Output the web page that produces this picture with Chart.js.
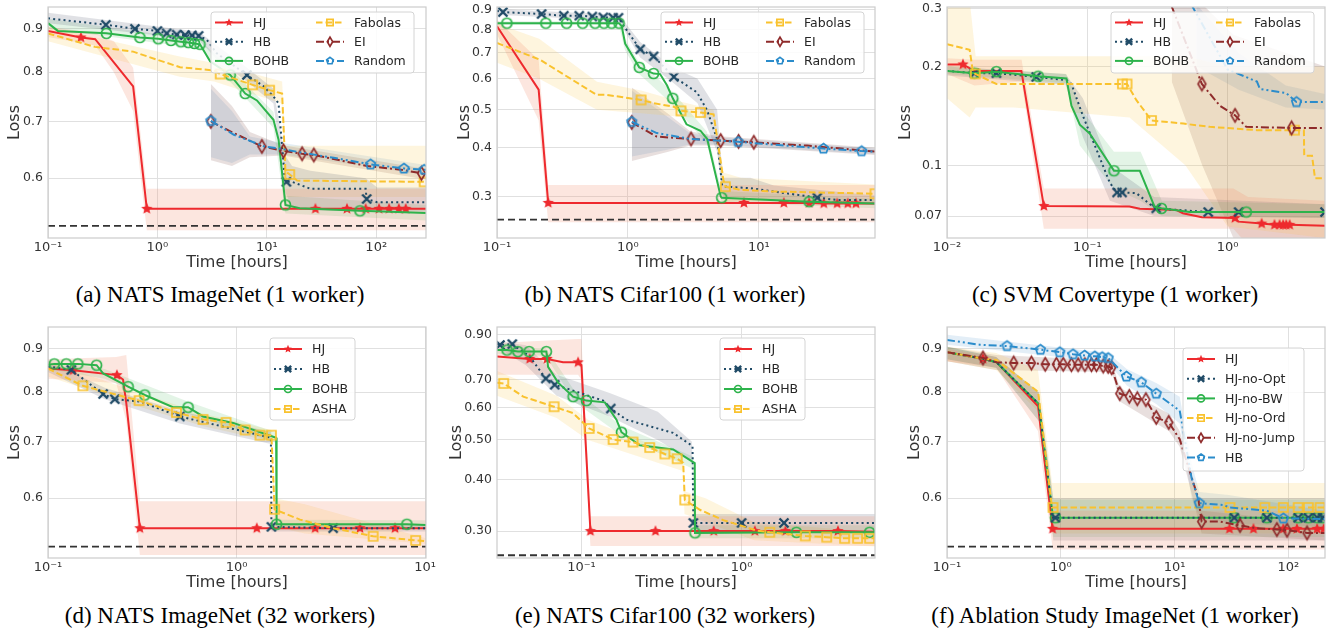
<!DOCTYPE html>
<html>
<head>
<meta charset="utf-8">
<script src="https://cdn.jsdelivr.net/npm/chart.js@4.4.1/dist/chart.umd.min.js"></script>
<style>
body { margin: 0; background: #fff; }
#fig { position: relative; width: 1340px; height: 633px; overflow: hidden; }
canvas { position: absolute; }
.cap { position: absolute; text-align: center; font-family: 'Liberation Serif', serif; font-size: 23px; line-height: 26px; color: #000; white-space: nowrap; }
</style>
</head>
<body>
<div id="fig">
  <canvas id="ca" width="440" height="280" style="left:0;top:0"></canvas>
  <canvas id="cb" width="450" height="280" style="left:440px;top:0"></canvas>
  <canvas id="cc" width="450" height="280" style="left:890px;top:0"></canvas>
  <canvas id="cd" width="440" height="280" style="left:0;top:320px"></canvas>
  <canvas id="ce" width="450" height="280" style="left:440px;top:320px"></canvas>
  <canvas id="cf" width="450" height="280" style="left:890px;top:320px"></canvas>
  <div class="cap" style="left:0;top:282px;width:440px">(a) NATS ImageNet (1 worker)</div>
  <div class="cap" style="left:440px;top:282px;width:450px">(b) NATS Cifar100 (1 worker)</div>
  <div class="cap" style="left:890px;top:282px;width:450px">(c) SVM Covertype (1 worker)</div>
  <div class="cap" style="left:0;top:603px;width:440px">(d) NATS ImageNet (32 workers)</div>
  <div class="cap" style="left:440px;top:603px;width:450px">(e) NATS Cifar100 (32 workers)</div>
  <div class="cap" style="left:890px;top:603px;width:450px">(f) Ablation Study ImageNet (1 worker)</div>
</div>
<script>
// ---- (a) NATS ImageNet, 1 worker ----
var aXlim = [0.1, 285], aYlim = [0.51, 0.955];
var aXt = [0.1, 1, 10, 100], aYt = [0.6, 0.7, 0.8, 0.9];
var aHjT = [0.1, 0.2, 0.27, 0.6, 0.8, 27.8, 54, 80, 106, 131, 161, 186, 285];
var aHjY = [0.895, 0.879, 0.875, 0.77, 0.552, 0.552, 0.552, 0.552, 0.552, 0.552, 0.552, 0.552, 0.552];
var aHjM = [1, 4, 5, 6, 7, 8, 9, 10, 11];
var aHjBT = [0.1, 0.27, 0.4, 0.6, 0.8, 285];
var aHjLo = [0.88, 0.86, 0.8, 0.72, 0.521, 0.521];
var aHjHi = [0.905, 0.89, 0.87, 0.81, 0.583, 0.583];
var aHbT = [0.1, 0.338, 0.623, 1.0, 1.215, 1.5, 1.79, 2.07, 2.38, 2.82, 3.49, 6.58, 9.35, 11.5, 12.8, 14.5, 15.1, 17, 25, 80, 81.7, 102, 285];
var aHbY = [0.926, 0.91, 0.9, 0.895, 0.889, 0.886, 0.885, 0.884, 0.883, 0.874, 0.842, 0.794, 0.77, 0.749, 0.735, 0.605, 0.594, 0.594, 0.583, 0.583, 0.567, 0.562, 0.562];
var aHbM = [1, 2, 3, 4, 5, 6, 7, 8, 11, 16, 20];
var aHbBT = [0.1, 2.4, 3.5, 6.6, 11.5, 14.5, 17, 25, 80, 102, 285];
var aHbLo = [0.914, 0.873, 0.828, 0.78, 0.735, 0.58, 0.555, 0.55, 0.548, 0.548, 0.548];
var aHbHi = [0.94, 0.893, 0.86, 0.81, 0.765, 0.64, 0.62, 0.612, 0.6, 0.585, 0.585];
var aBoT = [0.1, 0.123, 0.342, 0.692, 1.019, 1.33, 1.64, 1.92, 2.18, 2.45, 3.03, 4.63, 6.35, 8.12, 11.5, 12.8, 14.8, 20, 71, 285];
var aBoY = [0.914, 0.895, 0.889, 0.879, 0.876, 0.872, 0.869, 0.867, 0.865, 0.863, 0.824, 0.794, 0.755, 0.741, 0.703, 0.666, 0.558, 0.553, 0.549, 0.546];
var aBoM = [2, 3, 4, 5, 6, 7, 8, 9, 11, 12, 16, 18];
var aBoBT = [0.1, 2.45, 4.6, 11.5, 14.8, 285];
var aBoLo = [0.9, 0.853, 0.78, 0.688, 0.545, 0.535];
var aBoHi = [0.925, 0.873, 0.808, 0.718, 0.572, 0.558];
var aFaT = [0.1, 0.268, 0.6, 0.984, 1.61, 3.25, 3.75, 7.41, 10.6, 13.8, 14.8, 16.2, 18.9, 274, 285];
var aFaY = [0.889, 0.857, 0.846, 0.828, 0.811, 0.804, 0.796, 0.773, 0.762, 0.755, 0.611, 0.606, 0.596, 0.594, 0.594];
var aFaM = [6, 7, 8, 11, 13];
var aFaBT = [0.1, 1.6, 3.3, 13.8, 14.8, 285];
var aFaLo = [0.87, 0.79, 0.78, 0.735, 0.57, 0.57];
var aFaHi = [0.905, 0.835, 0.82, 0.78, 0.655, 0.655];
var aEiT = [3.08, 5.0, 9.02, 14.2, 21, 26.9, 40.9, 82.8, 167, 259, 285];
var aEiY = [0.7, 0.678, 0.654, 0.646, 0.641, 0.639, 0.632, 0.62, 0.614, 0.608, 0.605];
var aEiM = [0, 2, 3, 4, 5, 9];
var aEiBT = [3.08, 4.8, 7, 14, 285];
var aEiLo = [0.63, 0.62, 0.635, 0.638, 0.598];
var aEiHi = [0.775, 0.73, 0.68, 0.656, 0.615];
var aRaT = [3.08, 5.0, 9.5, 14.2, 21, 40.9, 88.7, 179, 274, 285];
var aRaY = [0.701, 0.675, 0.654, 0.649, 0.643, 0.634, 0.623, 0.616, 0.614, 0.614];
var aRaM = [0, 6, 7, 8];
var aRaBT = [3.08, 4.8, 7, 14, 285];
var aRaLo = [0.635, 0.625, 0.64, 0.64, 0.605];
var aRaHi = [0.765, 0.72, 0.672, 0.66, 0.622];
var aBest = 0.527;

// ---- (b) NATS Cifar100, 1 worker ----
var bXlim = [0.1, 77], bYlim = [0.235, 0.916];
var bXt = [0.1, 1, 10], bYt = [0.3, 0.4, 0.5, 0.6, 0.7, 0.8, 0.9];
var bHjT = [0.1, 0.208, 0.246, 7.68, 15.5, 24.2, 31.3, 39.6, 47.7, 55.1, 77];
var bHjY = [0.818, 0.563, 0.289, 0.289, 0.289, 0.289, 0.288, 0.288, 0.288, 0.288, 0.288];
var bHjM = [2, 3, 4, 5, 6, 7, 8, 9];
var bHjBT = [0.1, 0.208, 0.246, 77];
var bHjLo = [0.78, 0.47, 0.258, 0.258];
var bHjHi = [0.85, 0.67, 0.321, 0.321];
var bHbT = [0.1, 0.111, 0.219, 0.324, 0.425, 0.534, 0.649, 0.771, 0.846, 0.897, 1.24, 1.57, 2.24, 3.37, 4.03, 4.79, 5.24, 5.55, 8.63, 13, 27.9, 39.6, 77];
var bHbY = [0.895, 0.889, 0.879, 0.87, 0.87, 0.866, 0.862, 0.86, 0.86, 0.833, 0.714, 0.685, 0.607, 0.554, 0.498, 0.421, 0.32, 0.318, 0.315, 0.309, 0.298, 0.294, 0.294];
var bHbM = [1, 2, 3, 4, 5, 6, 7, 8, 10, 11, 12, 20];
var bHbBT = [0.1, 0.85, 1.24, 2.24, 3.4, 4.8, 5.3, 8.6, 13, 77];
var bHbLo = [0.875, 0.845, 0.68, 0.585, 0.52, 0.39, 0.3, 0.298, 0.294, 0.285];
var bHbHi = [0.905, 0.875, 0.745, 0.64, 0.6, 0.5, 0.335, 0.335, 0.32, 0.302];
var bBoT = [0.1, 0.119, 0.236, 0.34, 0.451, 0.561, 0.656, 0.751, 0.855, 0.897, 0.952, 1.22, 1.57, 1.76, 1.99, 2.2, 2.8, 3.58, 4.03, 5.11, 5.2, 24.2, 77];
var bBoY = [0.833, 0.833, 0.833, 0.833, 0.833, 0.833, 0.833, 0.833, 0.833, 0.818, 0.738, 0.642, 0.619, 0.617, 0.577, 0.535, 0.459, 0.442, 0.421, 0.3, 0.298, 0.291, 0.288];
var bBoM = [1, 2, 3, 4, 5, 6, 7, 8, 11, 12, 15, 20, 21];
var bBoBT = [0.1, 0.85, 0.95, 1.2, 2.2, 4.0, 5.2, 77];
var bBoLo = [0.825, 0.825, 0.71, 0.62, 0.515, 0.41, 0.29, 0.28];
var bBoHi = [0.842, 0.842, 0.76, 0.665, 0.555, 0.44, 0.31, 0.296];
var bFaT = [0.1, 0.212, 0.576, 0.688, 1.26, 1.57, 2.24, 2.54, 3.58, 4.51, 5.36, 5.55, 7.25, 13, 77];
var bFaY = [0.741, 0.672, 0.546, 0.546, 0.53, 0.52, 0.509, 0.497, 0.492, 0.487, 0.33, 0.318, 0.312, 0.309, 0.305];
var bFaM = [4, 7, 8, 11, 14];
var bFaBT = [0.1, 0.21, 0.58, 1.26, 2.5, 4.5, 5.4, 7.3, 77];
var bFaLo = [0.66, 0.6, 0.5, 0.49, 0.48, 0.475, 0.29, 0.292, 0.29];
var bFaHi = [0.83, 0.76, 0.59, 0.56, 0.525, 0.5, 0.345, 0.335, 0.322];
var bEiT = [1.07, 1.66, 3.03, 5.11, 7.0, 9.15, 23.3, 77];
var bEiY = [0.464, 0.427, 0.421, 0.417, 0.415, 0.413, 0.405, 0.391];
var bEiM = [0, 2, 3, 4, 5];
var bEiBT = [1.07, 2, 3, 5, 77];
var bEiLo = [0.37, 0.39, 0.405, 0.405, 0.383];
var bEiHi = [0.57, 0.49, 0.44, 0.428, 0.4];
var bRaT = [1.07, 1.66, 3.0, 6.94, 31.1, 60.8, 77];
var bRaY = [0.466, 0.436, 0.421, 0.414, 0.398, 0.392, 0.391];
var bRaM = [0, 3, 4, 5];
var bRaBT = [1.07, 2, 3, 5, 77];
var bRaLo = [0.38, 0.395, 0.408, 0.407, 0.385];
var bRaHi = [0.56, 0.48, 0.435, 0.425, 0.398];
var bBest = 0.262;

// ---- (c) SVM Covertype, 1 worker ----
var cXlim = [0.01, 4.95], cYlim = [0.060, 0.304];
var cXt = [0.01, 0.1, 1], cYt = [0.07, 0.1, 0.2, 0.3];
var cHjT = [0.01, 0.013, 0.0157, 0.0339, 0.049, 0.2, 0.237, 0.433, 0.48, 0.656, 1.128, 1.2, 1.75, 2.16, 2.35, 2.49, 2.62, 2.77, 4.95];
var cHjY = [0.203, 0.203, 0.194, 0.194, 0.0751, 0.0748, 0.0737, 0.073, 0.0714, 0.0694, 0.069, 0.0673, 0.0664, 0.0658, 0.0658, 0.0658, 0.0658, 0.0658, 0.0654];
var cHjM = [1, 4, 10, 12, 13, 14, 15, 16, 17];
var cHjBT = [0.01, 0.0157, 0.034, 0.049, 1.1, 1.4, 4.95];
var cHjLo = [0.19, 0.175, 0.18, 0.064, 0.064, 0.057, 0.057];
var cHjHi = [0.212, 0.21, 0.21, 0.085, 0.085, 0.08, 0.078];
var cHbT = [0.01, 0.0157, 0.0225, 0.0433, 0.071, 0.0771, 0.0934, 0.116, 0.145, 0.163, 0.177, 0.224, 0.294, 0.31, 0.728, 1.2, 4.95];
var cHbY = [0.194, 0.191, 0.191, 0.186, 0.182, 0.177, 0.141, 0.112, 0.0883, 0.0826, 0.0826, 0.0822, 0.0748, 0.0739, 0.072, 0.072, 0.072];
var cHbM = [1, 2, 3, 9, 10, 13, 14, 15, 16];
var cHbBT = [0.01, 0.07, 0.093, 0.145, 0.3, 4.95];
var cHbLo = [0.188, 0.176, 0.122, 0.078, 0.07, 0.069];
var cHbHi = [0.2, 0.19, 0.16, 0.1, 0.08, 0.076];
var cBoT = [0.01, 0.0157, 0.0225, 0.0447, 0.071, 0.0771, 0.0885, 0.104, 0.155, 0.237, 0.302, 0.338, 0.536, 1.36, 4.95];
var cBoY = [0.194, 0.191, 0.193, 0.187, 0.184, 0.152, 0.133, 0.125, 0.0962, 0.0962, 0.0746, 0.0739, 0.072, 0.072, 0.072];
var cBoM = [1, 2, 3, 8, 11, 13];
var cBoBT = [0.01, 0.071, 0.0885, 0.155, 0.24, 0.34, 4.95];
var cBoLo = [0.19, 0.178, 0.115, 0.085, 0.078, 0.07, 0.069];
var cBoHi = [0.2, 0.19, 0.15, 0.11, 0.11, 0.078, 0.076];
var cFaT = [0.01, 0.0145, 0.0153, 0.0159, 0.0225, 0.178, 0.192, 0.224, 0.287, 0.484, 0.749, 1.62, 3.0, 3.5, 3.52, 4.0, 4.2, 4.95];
var cFaY = [0.234, 0.225, 0.193, 0.19, 0.177, 0.177, 0.177, 0.158, 0.137, 0.134, 0.131, 0.128, 0.128, 0.128, 0.107, 0.107, 0.0913, 0.0913];
var cFaM = [3, 5, 6, 8, 12];
var cFaBT = [0.01, 0.0145, 0.016, 0.03, 0.2, 0.5, 1.0, 4.95];
var cFaLo = [0.16, 0.14, 0.15, 0.15, 0.14, 0.1, 0.065, 0.06];
var cFaHi = [0.32, 0.32, 0.215, 0.215, 0.215, 0.215, 0.2, 0.2];
var cEiT = [0.4, 0.656, 0.88, 1.13, 1.36, 2.86, 4.95];
var cEiY = [0.305, 0.177, 0.152, 0.142, 0.131, 0.13, 0.13];
var cEiM = [1, 3, 5];
var cEiBT = [0.4, 0.66, 1.1, 4.95];
var cEiLo = [0.18, 0.1, 0.06, 0.06];
var cEiHi = [0.31, 0.31, 0.25, 0.2];
var cRaT = [0.55, 1.0, 1.16, 1.62, 1.7, 2.62, 3.1, 4.95];
var cRaY = [0.31, 0.196, 0.191, 0.18, 0.171, 0.166, 0.156, 0.156];
var cRaM = [6];
var cRaBT = [0.6, 1.2, 2.6, 4.95];
var cRaLo = [0.2, 0.17, 0.15, 0.148];
var cRaHi = [0.31, 0.22, 0.175, 0.165];

// ---- (d) NATS ImageNet, 32 workers ----
var dXlim = [0.1, 10.1], dYlim = [0.51, 0.955];
var dXt = [0.1, 1, 10], dYt = [0.6, 0.7, 0.8, 0.9];
var dHjT = [0.1, 0.136, 0.232, 0.25, 0.26, 0.307, 1.28, 2.61, 4.51, 6.92, 10.1];
var dHjY = [0.853, 0.849, 0.838, 0.828, 0.777, 0.553, 0.553, 0.553, 0.553, 0.553, 0.553];
var dHjM = [1, 2, 5, 6, 7, 8, 9];
var dHjBT = [0.1, 0.23, 0.26, 0.307, 10.1];
var dHjLo = [0.83, 0.82, 0.74, 0.514, 0.514];
var dHjHi = [0.875, 0.88, 0.885, 0.595, 0.595];
var dHbT = [0.1, 0.133, 0.196, 0.226, 0.307, 0.5, 0.96, 1.52, 1.53, 3.25, 10.1];
var dHbY = [0.858, 0.85, 0.796, 0.785, 0.78, 0.749, 0.724, 0.707, 0.555, 0.553, 0.553];
var dHbM = [1, 2, 3, 5, 8, 9];
var dHbBT = [0.1, 0.2, 0.5, 1.52, 1.53, 10.1];
var dHbLo = [0.845, 0.785, 0.735, 0.695, 0.548, 0.548];
var dHbHi = [0.87, 0.81, 0.76, 0.718, 0.56, 0.558];
var dBoT = [0.1, 0.108, 0.125, 0.144, 0.181, 0.196, 0.266, 0.326, 0.46, 0.553, 0.664, 0.96, 1.62, 1.63, 8.0, 10.1];
var dBoY = [0.862, 0.864, 0.864, 0.864, 0.861, 0.842, 0.812, 0.794, 0.768, 0.768, 0.749, 0.736, 0.707, 0.559, 0.559, 0.558];
var dBoM = [1, 2, 3, 4, 6, 7, 9, 13, 14];
var dBoBT = [0.1, 0.2, 0.55, 1.62, 1.63, 10.1];
var dBoLo = [0.852, 0.83, 0.755, 0.697, 0.552, 0.552];
var dBoHi = [0.872, 0.852, 0.78, 0.717, 0.566, 0.565];
var dAsT = [0.1, 0.153, 0.304, 0.48, 0.664, 0.879, 1.11, 1.33, 1.53, 1.59, 2.17, 3.25, 5.3, 8.9, 10.1];
var dAsY = [0.853, 0.814, 0.782, 0.757, 0.743, 0.737, 0.722, 0.712, 0.712, 0.582, 0.566, 0.553, 0.541, 0.535, 0.534];
var dAsM = [1, 2, 3, 4, 5, 6, 7, 8, 9, 12, 13];
var dAsBT = [0.1, 0.3, 0.66, 1.53, 1.59, 2.3, 10.1];
var dAsLo = [0.835, 0.77, 0.73, 0.7, 0.555, 0.545, 0.53];
var dAsHi = [0.87, 0.8, 0.755, 0.722, 0.6, 0.59, 0.538];
var dBest = 0.526;

// ---- (e) NATS Cifar100, 32 workers ----
var eXlim = [0.0297, 6.81], eYlim = [0.258, 0.941];
var eXt = [0.1, 1], eYt = [0.3, 0.4, 0.5, 0.6, 0.7, 0.9];
var eHjT = [0.0297, 0.0475, 0.061, 0.0768, 0.0953, 0.1, 0.1138, 0.29, 0.67, 1.21, 1.88, 4.0, 6.81];
var eHjY = [0.798, 0.787, 0.787, 0.772, 0.772, 0.761, 0.3, 0.3, 0.3, 0.3, 0.3, 0.3, 0.299];
var eHjM = [1, 2, 4, 6, 7, 8, 9, 10, 11];
var eHjBT = [0.0297, 0.0953, 0.1, 0.1138, 6.81];
var eHjLo = [0.72, 0.72, 0.7, 0.276, 0.276];
var eHjHi = [0.86, 0.88, 0.88, 0.326, 0.326];
var eHbT = [0.0297, 0.031, 0.037, 0.0475, 0.0599, 0.0681, 0.0887, 0.1366, 0.1525, 0.191, 0.374, 0.494, 0.5, 1.0, 1.84, 6.81];
var eHbY = [0.855, 0.851, 0.855, 0.798, 0.705, 0.681, 0.659, 0.623, 0.596, 0.56, 0.52, 0.483, 0.314, 0.314, 0.314, 0.314];
var eHbM = [1, 2, 4, 5, 8, 12, 13, 14];
var eHbBT = [0.0297, 0.045, 0.07, 0.15, 0.3, 0.49, 0.5, 6.81];
var eHbLo = [0.84, 0.76, 0.64, 0.57, 0.5, 0.445, 0.298, 0.298];
var eHbHi = [0.87, 0.85, 0.72, 0.65, 0.585, 0.495, 0.33, 0.33];
var eBoT = [0.0297, 0.0343, 0.0401, 0.0471, 0.0604, 0.0619, 0.0715, 0.0887, 0.1075, 0.14, 0.1655, 0.1778, 0.2316, 0.374, 0.51, 0.512, 2.2, 6.3, 6.81];
var eBoY = [0.827, 0.827, 0.82, 0.82, 0.82, 0.753, 0.689, 0.637, 0.623, 0.617, 0.56, 0.522, 0.485, 0.474, 0.439, 0.297, 0.298, 0.298, 0.298];
var eBoM = [1, 2, 3, 4, 7, 8, 11, 15, 16, 17];
var eBoBT = [0.0297, 0.06, 0.09, 0.18, 0.5, 0.51, 6.81];
var eBoLo = [0.81, 0.8, 0.62, 0.51, 0.425, 0.288, 0.288];
var eBoHi = [0.84, 0.835, 0.66, 0.54, 0.455, 0.31, 0.31];
var eAsT = [0.0297, 0.0327, 0.0433, 0.0675, 0.0887, 0.1117, 0.1577, 0.21, 0.267, 0.332, 0.396, 0.432, 0.442, 0.549, 0.768, 1.24, 1.5, 2.5, 3.4, 4.4, 5.3, 6.3, 6.81];
var eAsY = [0.689, 0.686, 0.637, 0.602, 0.581, 0.533, 0.501, 0.494, 0.479, 0.462, 0.45, 0.44, 0.357, 0.338, 0.319, 0.301, 0.298, 0.292, 0.29, 0.288, 0.288, 0.288, 0.288];
var eAsM = [1, 3, 5, 6, 7, 8, 9, 10, 12, 16, 17, 18, 19, 20, 21];
var eAsBT = [0.0297, 0.07, 0.11, 0.43, 0.44, 0.6, 1.2, 6.81];
var eAsLo = [0.64, 0.565, 0.5, 0.42, 0.33, 0.315, 0.285, 0.275];
var eAsHi = [0.735, 0.64, 0.56, 0.455, 0.375, 0.36, 0.315, 0.298];
var eBest = 0.262;

// ---- (f) Ablation study ImageNet, 1 worker ----
var fXlim = [0.1, 210], fYlim = [0.51, 0.955];
var fXt = [0.1, 1, 10, 100], fYt = [0.6, 0.7, 0.8, 0.9];
var fHjT = [0.1, 0.207, 0.272, 0.632, 0.846, 30.4, 49.4, 90.3, 119, 179, 205, 210];
var fHjY = [0.892, 0.876, 0.868, 0.77, 0.552, 0.552, 0.552, 0.552, 0.552, 0.552, 0.552, 0.552];
var fHjM = [1, 4, 5, 6, 7, 8, 9, 10];
var fHjBT = [0.1, 0.27, 0.63, 0.85, 210];
var fHjLo = [0.87, 0.855, 0.72, 0.522, 0.522];
var fHjHi = [0.9, 0.88, 0.8, 0.58, 0.58];
var fOpT = [0.1, 0.207, 0.272, 0.64, 0.855, 0.897, 33.5, 64.7, 122, 150, 180, 200, 210];
var fOpY = [0.892, 0.876, 0.868, 0.775, 0.569, 0.569, 0.569, 0.569, 0.569, 0.569, 0.569, 0.569, 0.569];
var fOpM = [5, 6, 7, 8, 9, 10, 11];
var fOpBT = [0.1, 0.27, 0.64, 0.86, 210];
var fOpLo = [0.875, 0.855, 0.74, 0.535, 0.535];
var fOpHi = [0.905, 0.88, 0.8, 0.6, 0.6];
var fBwT = [0.1, 0.207, 0.272, 0.64, 0.855, 0.897, 33.5, 64.7, 122, 150, 180, 200, 210];
var fBwY = [0.892, 0.876, 0.868, 0.775, 0.569, 0.569, 0.569, 0.569, 0.569, 0.569, 0.569, 0.569, 0.569];
var fBwM = [5, 6, 7, 8, 9, 10, 11];
var fBwBT = [0.1, 0.27, 0.64, 0.86, 210];
var fBwLo = [0.875, 0.855, 0.74, 0.54, 0.54];
var fBwHi = [0.905, 0.88, 0.8, 0.598, 0.598];
var fOrT = [0.1, 0.207, 0.272, 0.632, 0.837, 0.855, 30.7, 62.1, 90.3, 122, 150, 190, 210];
var fOrY = [0.892, 0.876, 0.873, 0.801, 0.585, 0.585, 0.585, 0.585, 0.585, 0.585, 0.585, 0.585, 0.585];
var fOrM = [5, 6, 7, 8, 9, 10, 11];
var fOrBT = [0.1, 0.27, 0.63, 0.84, 210];
var fOrLo = [0.87, 0.85, 0.76, 0.545, 0.545];
var fOrHi = [0.905, 0.89, 0.85, 0.625, 0.625];
var fJuT = [0.1, 0.207, 0.272, 0.386, 0.552, 0.73, 0.915, 1.05, 1.24, 1.42, 1.63, 1.86, 2.06, 2.36, 2.61, 2.8, 3.3, 4.0, 4.7, 5.6, 6.9, 8.9, 11.1, 16.2, 17.3, 25.1, 37.6, 52.8, 79.3, 97.4, 146, 210];
var fJuY = [0.892, 0.878, 0.868, 0.866, 0.866, 0.863, 0.863, 0.863, 0.862, 0.862, 0.862, 0.862, 0.862, 0.859, 0.858, 0.855, 0.797, 0.791, 0.786, 0.784, 0.747, 0.737, 0.704, 0.599, 0.563, 0.563, 0.557, 0.553, 0.551, 0.55, 0.546, 0.546];
var fJuM = [1, 3, 4, 5, 6, 7, 8, 9, 10, 11, 12, 13, 14, 15, 16, 17, 18, 19, 20, 21, 24, 26, 28, 29, 30];
var fJuBT = [0.1, 0.27, 2.8, 3.3, 8.9, 11.1, 17.3, 210];
var fJuLo = [0.87, 0.85, 0.845, 0.78, 0.72, 0.69, 0.545, 0.535];
var fJuHi = [0.905, 0.885, 0.872, 0.81, 0.755, 0.72, 0.58, 0.56];
var fHbT = [0.1, 0.194, 0.337, 0.662, 0.98, 1.28, 1.62, 1.99, 2.31, 2.61, 3.78, 5.1, 6.9, 11.1, 14.1, 16.5, 26.5, 30.7, 64.7, 90.3, 210];
var fHbY = [0.922, 0.91, 0.907, 0.898, 0.892, 0.887, 0.884, 0.882, 0.88, 0.878, 0.835, 0.822, 0.797, 0.761, 0.634, 0.592, 0.589, 0.585, 0.58, 0.568, 0.567];
var fHbM = [2, 3, 4, 5, 6, 7, 8, 9, 10, 11, 12, 15, 19];
var fHbBT = [0.1, 2.6, 3.8, 6.9, 11.1, 14.1, 16.5, 30, 210];
var fHbLo = [0.91, 0.868, 0.815, 0.775, 0.735, 0.6, 0.572, 0.56, 0.555];
var fHbHi = [0.935, 0.89, 0.852, 0.82, 0.79, 0.66, 0.61, 0.605, 0.58];
var fBest = 0.526;

// ---- styles ----
Chart.defaults.font.family = "'DejaVu Sans', sans-serif";
Chart.defaults.color = '#333';

function drawMk(ctx, type, color, x, y, r) {
  ctx.save();
  ctx.strokeStyle = color; ctx.fillStyle = color;
  ctx.lineWidth = 1.7; ctx.setLineDash([]);
  ctx.beginPath();
  if (type == 'star') {
    for (var i = 0; i < 10; i++) {
      var a = -Math.PI / 2 + i * Math.PI / 5, rr = i % 2 ? r * 0.45 : r;
      ctx.lineTo(x + rr * Math.cos(a), y + rr * Math.sin(a));
    }
    ctx.closePath(); ctx.fill();
  } else if (type == 'x') {
    ctx.lineWidth = 2.4;
    ctx.moveTo(x - r, y - r); ctx.lineTo(x + r, y + r);
    ctx.moveTo(x + r, y - r); ctx.lineTo(x - r, y + r);
    ctx.stroke();
  } else if (type == 'circle') {
    ctx.arc(x, y, r, 0, Math.PI * 2); ctx.stroke();
  } else if (type == 'square') {
    ctx.rect(x - r * 0.9, y - r * 0.9, r * 1.8, r * 1.8); ctx.stroke();
  } else if (type == 'diamond') {
    ctx.moveTo(x, y - r * 1.2); ctx.lineTo(x + r * 0.7, y); ctx.lineTo(x, y + r * 1.2); ctx.lineTo(x - r * 0.7, y);
    ctx.closePath(); ctx.stroke();
  } else if (type == 'pent') {
    for (var j = 0; j < 5; j++) {
      var b = -Math.PI / 2 + j * 2 * Math.PI / 5;
      ctx.lineTo(x + r * Math.cos(b), y + r * Math.sin(b));
    }
    ctx.closePath(); ctx.stroke();
  }
  ctx.restore();
}

function mkImg(type, color, r) {
  var c = document.createElement('canvas');
  var s = Math.ceil(r * 2.6 + 4);
  c.width = s; c.height = s;
  drawMk(c.getContext('2d'), type, color, s / 2, s / 2, r);
  return c;
}

function style(c, dash, mk, r, band) {
  return { c: c, dash: dash, mk: mk, r: r, band: band, img: mkImg(mk, c, r) };
}

var sHJ = style('#ee2a2e', [], 'star', 6, 'rgba(242,140,110,0.22)');
var sHB = style('#1f4a66', [2, 3.2], 'x', 4.5, 'rgba(70,75,100,0.17)');
var sBO = style('#2db34b', [], 'circle', 5, 'rgba(60,180,80,0.14)');
var sFA = style('#f9c22e', [6.5, 3], 'square', 5, 'rgba(250,205,90,0.2)');
var sEI = style('#8f2b2b', [8, 3, 2, 3], 'diamond', 5.5, 'rgba(130,80,70,0.18)');
var sRA = style('#2b8ccb', [8, 3, 2, 3, 2, 3], 'pent', 5, 'rgba(70,140,200,0.15)');

function pts(t, y) {
  return t.map(function (x, i) { return { x: x, y: y[i] }; });
}

function ln(t, y, m, s, ord) {
  return {
    data: pts(t, y), borderColor: s.c, borderWidth: 2, borderDash: s.dash,
    pointStyle: s.img, pointRadius: function (c) { return m.indexOf(c.dataIndex) >= 0 ? 4 : 0; },
    pointHoverRadius: 0, fill: false, tension: 0, order: ord
  };
}

function bd(t, lo, hi, col) {
  return [
    { data: pts(t, lo), borderColor: 'rgba(0,0,0,0)', borderWidth: 0, pointRadius: 0, fill: false, order: 50 },
    { data: pts(t, hi), borderColor: 'rgba(0,0,0,0)', borderWidth: 0, pointRadius: 0, fill: '-1', backgroundColor: col, order: 50 }
  ];
}

function ref(v, xl) {
  return { data: [{ x: xl[0], y: v }, { x: xl[1], y: v }], borderColor: '#333', borderWidth: 1.8,
    borderDash: [7, 4], pointRadius: 0, fill: false, order: 40 };
}

var SUP = { '-2': '\u207B\u00B2', '-1': '\u207B\u00B9', '0': '\u2070', '1': '\u00B9', '2': '\u00B2' };

function xAxis(lim, tk) {
  return {
    type: 'logarithmic', min: lim[0], max: lim[1],
    afterBuildTicks: function (s) { s.ticks = tk.map(function (v) { return { value: v }; }); },
    afterFit: function (s) { s.height = 42; s.paddingLeft = 0; s.paddingRight = 0; },
    ticks: { callback: function (v) { return '10' + SUP[Math.round(Math.log10(v))]; },
      font: { size: 13 }, color: '#333', padding: 2, autoSkip: false, maxRotation: 0 },
    grid: { color: '#e0e0e0', drawTicks: false },
    border: { display: false },
    title: { display: true, text: 'Time [hours]', font: { size: 16 }, color: '#333', padding: { top: 0, bottom: 8 } }
  };
}

function yAxis(lim, tk, w, pt, fmt) {
  return {
    type: 'logarithmic', min: lim[0], max: lim[1],
    afterBuildTicks: function (s) { s.ticks = tk.map(function (v) { return { value: v }; }); },
    afterFit: function (s) { s.width = w; s.paddingTop = 0; s.paddingBottom = 0; },
    ticks: { callback: fmt, font: { size: 12.5 }, color: '#333', padding: 5, autoSkip: false },
    grid: { color: '#e0e0e0', drawTicks: false },
    border: { display: false },
    title: { display: true, text: 'Loss', font: { size: 16 }, color: '#333', padding: { top: pt, bottom: 0 } }
  };
}

function frame(lg) {
  return {
    id: 'frame',
    afterDraw: function (chart) {
      var ctx = chart.ctx, a = chart.chartArea;
      ctx.save();
      ctx.strokeStyle = '#cccccc'; ctx.lineWidth = 1.2; ctx.setLineDash([]);
      ctx.strokeRect(a.left, a.top, a.right - a.left, a.bottom - a.top);
      ctx.beginPath();
      if (ctx.roundRect) ctx.roundRect(lg.x, lg.y, lg.w, lg.h, 3); else ctx.rect(lg.x, lg.y, lg.w, lg.h);
      ctx.fillStyle = 'rgba(255,255,255,0.85)'; ctx.fill();
      ctx.strokeStyle = '#d4d4d4'; ctx.lineWidth = 1; ctx.stroke();
      ctx.font = "12.5px 'DejaVu Sans'"; ctx.textBaseline = 'middle';
      lg.items.forEach(function (it, i) {
        var col = Math.floor(i / lg.rows), row = i % lg.rows;
        var x0 = lg.x + 4 + col * lg.cw, y0 = lg.y + lg.r0 + row * lg.rh, s = it[1];
        ctx.strokeStyle = s.c; ctx.lineWidth = 2; ctx.setLineDash(s.dash);
        ctx.beginPath(); ctx.moveTo(x0, y0); ctx.lineTo(x0 + 28, y0); ctx.stroke();
        ctx.setLineDash([]);
        drawMk(ctx, s.mk, s.c, x0 + 14, y0, s.r * 0.7);
        ctx.fillStyle = '#262626';
        ctx.fillText(it[0], x0 + 38, y0 + 1);
      });
      ctx.restore();
    }
  };
}

function panel(id, sets, xl, xt, yl, yt, w, pr, pt, fmt, lg) {
  new Chart(document.getElementById(id), {
    type: 'line',
    data: { datasets: sets },
    options: {
      responsive: false, animation: false, events: [],
      layout: { padding: { left: 0, top: 7, right: pr, bottom: 0 } },
      plugins: { legend: { display: false }, tooltip: { enabled: false } },
      scales: { x: xAxis(xl, xt), y: yAxis(yl, yt, w, pt, fmt) }
    },
    plugins: [frame(lg)]
  });
}

function plain(v) { return String(v); }
function two(v) { return v.toFixed(2); }

var legSix = [['HJ', sHJ], ['HB', sHB], ['BOHB', sBO], ['Fabolas', sFA], ['EI', sEI], ['Random', sRA]];
var legFour = [['HJ', sHJ], ['HB', sHB], ['BOHB', sBO], ['ASHA', sFA]];
var legAbl = [['HJ', sHJ], ['HJ-no-Opt', sHB], ['HJ-no-BW', sBO], ['HJ-no-Ord', sFA], ['HJ-no-Jump', sEI], ['HB', sRA]];

panel('ca', [].concat(
  bd(aHjBT, aHjLo, aHjHi, sHJ.band), bd(aHbBT, aHbLo, aHbHi, sHB.band), bd(aBoBT, aBoLo, aBoHi, sBO.band),
  bd(aFaBT, aFaLo, aFaHi, sFA.band), bd(aEiBT, aEiLo, aEiHi, sEI.band), bd(aRaBT, aRaLo, aRaHi, sRA.band),
  [ref(aBest, aXlim),
   ln(aHjT, aHjY, aHjM, sHJ, 9), ln(aHbT, aHbY, aHbM, sHB, 8), ln(aBoT, aBoY, aBoM, sBO, 7),
   ln(aFaT, aFaY, aFaM, sFA, 6), ln(aEiT, aEiY, aEiM, sEI, 5), ln(aRaT, aRaY, aRaM, sRA, 4)]),
  aXlim, aXt, aYlim, aYt, 48, 14, 5.4, plain,
  { x: 211, y: 12, w: 203, h: 61, rows: 3, cw: 101, r0: 10.5, rh: 19.2, items: legSix });

panel('cb', [].concat(
  bd(bHjBT, bHjLo, bHjHi, sHJ.band), bd(bHbBT, bHbLo, bHbHi, sHB.band), bd(bBoBT, bBoLo, bBoHi, sBO.band),
  bd(bFaBT, bFaLo, bFaHi, sFA.band), bd(bEiBT, bEiLo, bEiHi, sEI.band), bd(bRaBT, bRaLo, bRaHi, sRA.band),
  [ref(bBest, bXlim),
   ln(bHjT, bHjY, bHjM, sHJ, 9), ln(bHbT, bHbY, bHbM, sHB, 8), ln(bBoT, bBoY, bBoM, sBO, 7),
   ln(bFaT, bFaY, bFaM, sFA, 6), ln(bEiT, bEiY, bEiM, sEI, 5), ln(bRaT, bRaY, bRaM, sRA, 4)]),
  bXlim, bXt, bYlim, bYt, 57, 15, 15.4, plain,
  { x: 221, y: 12, w: 203, h: 61, rows: 3, cw: 101, r0: 10.5, rh: 19.2, items: legSix });

panel('cc', [].concat(
  bd(cHjBT, cHjLo, cHjHi, sHJ.band), bd(cHbBT, cHbLo, cHbHi, sHB.band), bd(cBoBT, cBoLo, cBoHi, sBO.band),
  bd(cFaBT, cFaLo, cFaHi, sFA.band), bd(cEiBT, cEiLo, cEiHi, sEI.band), bd(cRaBT, cRaLo, cRaHi, sRA.band),
  [ln(cHjT, cHjY, cHjM, sHJ, 9), ln(cHbT, cHbY, cHbM, sHB, 8), ln(cBoT, cBoY, cBoM, sBO, 7),
   ln(cFaT, cFaY, cFaM, sFA, 6), ln(cEiT, cEiY, cEiM, sEI, 5), ln(cRaT, cRaY, cRaM, sRA, 4)]),
  cXlim, cXt, cYlim, cYt, 57, 15, 6.4, plain,
  { x: 221, y: 12, w: 203, h: 61, rows: 3, cw: 101, r0: 10.5, rh: 19.2, items: legSix });

panel('cd', [].concat(
  bd(dHjBT, dHjLo, dHjHi, sHJ.band), bd(dHbBT, dHbLo, dHbHi, sHB.band), bd(dBoBT, dBoLo, dBoHi, sBO.band),
  bd(dAsBT, dAsLo, dAsHi, sFA.band),
  [ref(dBest, dXlim),
   ln(dHjT, dHjY, dHjM, sHJ, 9), ln(dHbT, dHbY, dHbM, sHB, 8), ln(dBoT, dBoY, dBoM, sBO, 7),
   ln(dAsT, dAsY, dAsM, sFA, 6)]),
  dXlim, dXt, dYlim, dYt, 48, 14, 5.4, plain,
  { x: 270, y: 18, w: 85, h: 82, rows: 4, cw: 0, r0: 11, rh: 20, items: legFour });

panel('ce', [].concat(
  bd(eHjBT, eHjLo, eHjHi, sHJ.band), bd(eHbBT, eHbLo, eHbHi, sHB.band), bd(eBoBT, eBoLo, eBoHi, sBO.band),
  bd(eAsBT, eAsLo, eAsHi, sFA.band),
  [ref(eBest, eXlim),
   ln(eHjT, eHjY, eHjM, sHJ, 9), ln(eHbT, eHbY, eHbM, sHB, 8), ln(eBoT, eBoY, eBoM, sBO, 7),
   ln(eAsT, eAsY, eAsM, sFA, 6)]),
  eXlim, eXt, eYlim, eYt, 57, 15, 7, two,
  { x: 280, y: 18, w: 85, h: 82, rows: 4, cw: 0, r0: 11, rh: 20, items: legFour });

panel('cf', [].concat(
  bd(fHjBT, fHjLo, fHjHi, sHJ.band), bd(fOpBT, fOpLo, fOpHi, sHB.band), bd(fBwBT, fBwLo, fBwHi, sBO.band),
  bd(fOrBT, fOrLo, fOrHi, sFA.band), bd(fJuBT, fJuLo, fJuHi, sEI.band), bd(fHbBT, fHbLo, fHbHi, sRA.band),
  [ref(fBest, fXlim),
   ln(fHjT, fHjY, fHjM, sHJ, 9), ln(fBwT, fBwY, fBwM, sBO, 8), ln(fOpT, fOpY, fOpM, sHB, 7),
   ln(fOrT, fOrY, fOrM, sFA, 6), ln(fJuT, fJuY, fJuM, sEI, 5), ln(fHbT, fHbY, fHbM, sRA, 4)]),
  fXlim, fXt, fYlim, fYt, 57, 15, 15.4, plain,
  { x: 293, y: 28, w: 121, h: 123, rows: 6, cw: 0, r0: 11, rh: 19.7, items: legAbl });
</script>
</body>
</html>
